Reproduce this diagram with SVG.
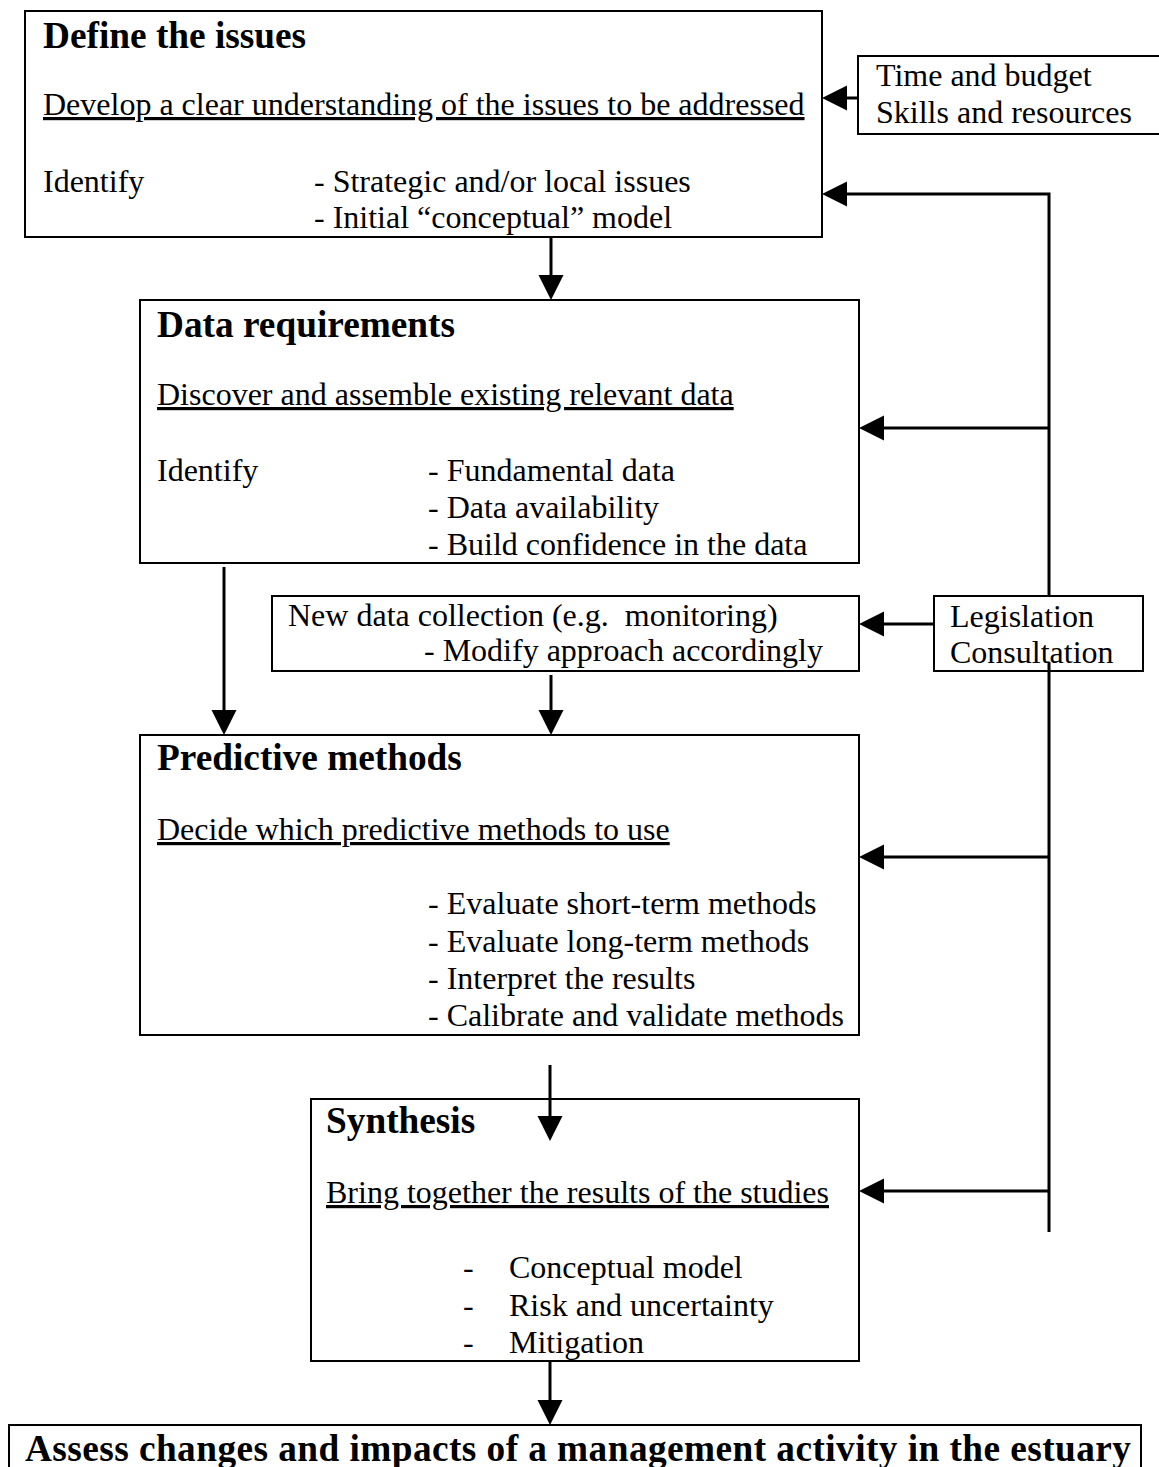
<svg xmlns="http://www.w3.org/2000/svg" width="1159" height="1467" viewBox="0 0 1159 1467">
<style>
  .box { fill: #fff; stroke: #000; stroke-width: 2; }
  .t { font-family: "Liberation Serif", "Times New Roman", serif; font-size: 32px; fill: #000; }
  .h { font-family: "Liberation Serif", "Times New Roman", serif; font-size: 37.3px; font-weight: bold; fill: #000; }
  .u { text-decoration: underline; }
  .c { stroke: #000; stroke-width: 3; fill: none; }
  .ca { stroke: #000; stroke-width: 3; fill: none; marker-end: url(#ah); }
</style>
<defs>
  <marker id="ah" markerUnits="userSpaceOnUse" markerWidth="26" markerHeight="26" refX="1" refY="12.5" orient="auto" viewBox="0 0 26 25">
    <path d="M0,0 L25,12.5 L0,25 Z" fill="#000"/>
  </marker>
</defs>
<rect width="1159" height="1467" fill="#fff"/>

<g id="define-issues">
  <rect class="box" x="25" y="11" width="797" height="226"/>
  <text class="h" x="43" y="48">Define the issues</text>
  <text class="t u" x="43" y="115">Develop a clear understanding of the issues to be addressed</text>
  <text class="t" x="43" y="192">Identify</text>
  <text class="t" x="314" y="192">- Strategic and/or local issues</text>
  <text class="t" x="314" y="228">- Initial “conceptual” model</text>
</g>

<g id="time-budget">
  <rect class="box" x="858" y="56" width="310" height="78"/>
  <text class="t" x="876" y="86">Time and budget</text>
  <text class="t" x="876" y="123">Skills and resources</text>
</g>

<g id="data-requirements">
  <rect class="box" x="140" y="300" width="719" height="263"/>
  <text class="h" x="157" y="337">Data requirements</text>
  <text class="t u" x="157" y="405">Discover and assemble existing relevant data</text>
  <text class="t" x="157" y="481">Identify</text>
  <text class="t" x="428" y="481">- Fundamental data</text>
  <text class="t" x="428" y="518">- Data availability</text>
  <text class="t" x="428" y="555">- Build confidence in the data</text>
</g>

<g id="new-data">
  <rect class="box" x="272" y="596" width="587" height="75"/>
  <text class="t" x="288" y="626" xml:space="preserve">New data collection (e.g.  monitoring)</text>
  <text class="t" x="424" y="661">- Modify approach accordingly</text>
</g>

<g id="legislation">
  <rect class="box" x="934" y="596" width="209" height="75"/>
  <text class="t" x="950" y="627">Legislation</text>
  <text class="t" x="950" y="663">Consultation</text>
</g>

<g id="predictive-methods">
  <rect class="box" x="140" y="735" width="719" height="300"/>
  <text class="h" x="157" y="770">Predictive methods</text>
  <text class="t u" x="157" y="840">Decide which predictive methods to use</text>
  <text class="t" x="428" y="914">- Evaluate short-term methods</text>
  <text class="t" x="428" y="952">- Evaluate long-term methods</text>
  <text class="t" x="428" y="989">- Interpret the results</text>
  <text class="t" x="428" y="1026">- Calibrate and validate methods</text>
</g>

<g id="synthesis">
  <rect class="box" x="311" y="1099" width="548" height="262"/>
  <text class="h" x="326" y="1133">Synthesis</text>
  <text class="t u" x="326" y="1203">Bring together the results of the studies</text>
  <text class="t" x="463" y="1278">-</text>
  <text class="t" x="509" y="1278">Conceptual model</text>
  <text class="t" x="463" y="1316">-</text>
  <text class="t" x="509" y="1316">Risk and uncertainty</text>
  <text class="t" x="463" y="1353">-</text>
  <text class="t" x="509" y="1353">Mitigation</text>
</g>

<g id="assess">
  <rect class="box" x="9" y="1425" width="1132" height="70"/>
  <text class="h" x="25" y="1461" textLength="1106" lengthAdjust="spacing">Assess changes and impacts of a management activity in the estuary</text>
</g>

<g id="connectors">
  <line class="ca" x1="551" y1="237" x2="551" y2="276"/>
  <line class="ca" x1="224" y1="567" x2="224" y2="711"/>
  <line class="ca" x1="551" y1="675" x2="551" y2="711"/>
  <line class="ca" x1="550" y1="1065" x2="550" y2="1117"/>
  <line class="ca" x1="550" y1="1361" x2="550" y2="1401"/>
  <line class="ca" x1="858" y1="98" x2="846" y2="98"/>
  <polyline class="ca" points="1049,596 1049,194 846,194"/>
  <line class="c" x1="1049" y1="662" x2="1049" y2="1232"/>
  <line class="ca" x1="1049" y1="428" x2="883" y2="428"/>
  <line class="ca" x1="934" y1="624" x2="883" y2="624"/>
  <line class="ca" x1="1049" y1="857" x2="883" y2="857"/>
  <line class="ca" x1="1049" y1="1191" x2="883" y2="1191"/>
</g>
</svg>
